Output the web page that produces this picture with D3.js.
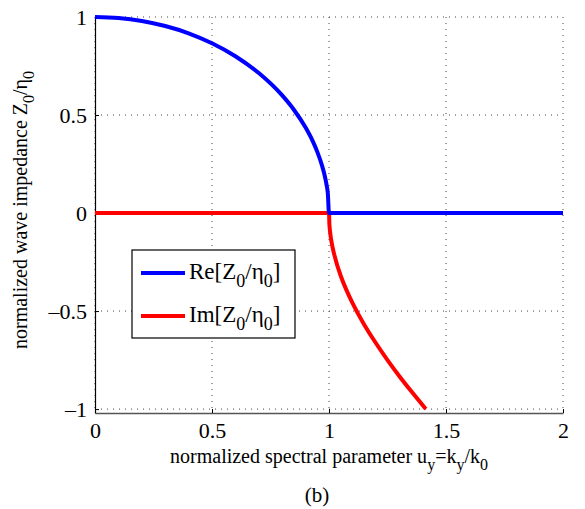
<!DOCTYPE html>
<html>
<head>
<meta charset="utf-8">
<script src="https://cdn.jsdelivr.net/npm/d3@7"></script>
<style>
  body { margin: 0; background: #fff; }
  svg text { font-family: "Liberation Serif", "DejaVu Serif", serif !important; fill: #000; }
</style>
</head>
<body>
<div id="chart"></div>
<script>
const width = 585,
      height = 509,
      margin = ({ top: 17, right: 22, bottom: 96, left: 95 });

// values
const re_u = [0, 0.1, 0.2, 0.3, 0.4, 0.5, 0.6, 0.7, 0.8, 0.85, 0.9, 0.93, 0.95, 0.97, 0.98, 0.99, 0.995, 1, 1.5, 2];
const re_v = [1, 0.995, 0.98, 0.954, 0.917, 0.866, 0.8, 0.714, 0.6, 0.527, 0.436, 0.368, 0.312, 0.243, 0.199, 0.141, 0.1, 0, 0, 0];
const im_u = [0, 0.5, 1, 1.002, 1.005, 1.01, 1.02, 1.05, 1.1, 1.15, 1.2, 1.25, 1.3, 1.35, 1.414];
const im_v = [0, 0, 0, -0.063, -0.1, -0.142, -0.2, -0.32, -0.458, -0.568, -0.663, -0.75, -0.831, -0.907, -1.0];
const xTicks = [0, 0.5, 1, 1.5, 2];
const yTicks = [-1, -0.5, 0, 0.5, 1];
const series = ["Re", "Im"];
const colors = ["#0000ff", "#ff0000"];

const svg = d3.select("#chart")
    .append("svg")
    .attr("width", width)
    .attr("height", height)
    .attr("font-family", "Liberation Serif, DejaVu Serif, serif");

let x = d3.scaleLinear()
    .domain([0, 2])
    .range([margin.left, width - margin.right]);

let y = d3.scaleLinear()
    .domain([-1.02, 1])
    .range([height - margin.bottom, margin.top]);

const fmt = d => d < 0 ? "\u2013" + Math.abs(d) : String(d);

// dotted grid
svg.append("g")
    .selectAll("line")
    .data(xTicks)
    .join("line")
    .attr("x1", d => x(d)).attr("x2", d => x(d))
    .attr("y1", y(1)).attr("y2", y(-1.02))
    .attr("stroke", "#444").attr("stroke-width", 1)
    .attr("stroke-dasharray", "1,5");

svg.append("g")
    .selectAll("line")
    .data(yTicks)
    .join("line")
    .attr("x1", x(0)).attr("x2", x(2))
    .attr("y1", d => y(d)).attr("y2", d => y(d))
    .attr("stroke", "#444").attr("stroke-width", 1)
    .attr("stroke-dasharray", "1,5");

// axes with inward ticks
svg.append("g")
    .attr("transform", `translate(0, ${y(-1.02)})`)
    .call(d3.axisBottom(x).tickValues(xTicks).tickFormat(fmt).tickSizeInner(-4).tickSizeOuter(0).tickPadding(9))
    .call(g => g.attr("font-family", null))
    .call(g => g.select(".domain").attr("stroke", "#555").attr("stroke-width", 1.5))
    .call(g => g.selectAll("text").attr("font-size", 22));

svg.append("g")
    .attr("transform", `translate(${x(0)}, 0)`)
    .call(d3.axisLeft(y).tickValues(yTicks).tickFormat(fmt).tickSizeInner(-4).tickSizeOuter(0).tickPadding(8))
    .call(g => g.attr("font-family", null))
    .call(g => g.select(".domain").attr("stroke", "#000").attr("stroke-width", 1.2))
    .call(g => g.selectAll("text").attr("font-size", 22));

// curves
const line = d3.line()
    .x(d => x(d[0]))
    .y(d => y(d[1]));

const reData = re_u.map((u, i) => [u, re_v[i]]);
const imData = im_u.map((u, i) => [u, im_v[i]]);

svg.append("path")
    .datum(imData)
    .attr("d", line.curve(d3.curveMonotoneY))
    .attr("fill", "none")
    .attr("stroke", colors[1])
    .attr("stroke-width", 4);

svg.append("path")
    .datum(reData)
    .attr("d", line.curve(d3.curveMonotoneX))
    .attr("fill", "none")
    .attr("stroke", colors[0])
    .attr("stroke-width", 4);

// legend
const legend = svg.append("g").attr("transform", "translate(132, 250)");
legend.append("rect")
    .attr("width", 163).attr("height", 88)
    .attr("fill", "#fff").attr("stroke", "#000").attr("stroke-width", 1.2);

series.forEach((s, i) => {
    const ly = 23 + i * 43;
    legend.append("line")
        .attr("x1", 9).attr("x2", 53)
        .attr("y1", ly).attr("y2", ly)
        .attr("stroke", colors[i]).attr("stroke-width", 4);
    const t = legend.append("text")
        .attr("x", 57).attr("y", ly + 6)
        .attr("font-size", 23);
    t.append("tspan").text(s + "[Z");
    t.append("tspan").attr("dy", 8).attr("font-size", 18).text("0");
    t.append("tspan").attr("dy", -8).text("/\u03b7");
    t.append("tspan").attr("dy", 8).attr("font-size", 18).text("0");
    t.append("tspan").attr("dy", -8).text("]");
});

// axis labels
const xl = svg.append("text")
    .attr("x", 329).attr("y", 463)
    .attr("text-anchor", "middle")
    .attr("font-size", 20);
xl.append("tspan").text("normalized spectral parameter u");
xl.append("tspan").attr("dy", 7).attr("font-size", 16).text("y");
xl.append("tspan").attr("dy", -7).text("=k");
xl.append("tspan").attr("dy", 7).attr("font-size", 16).text("y");
xl.append("tspan").attr("dy", -7).text("/k");
xl.append("tspan").attr("dy", 7).attr("font-size", 16).text("0");

const yl = svg.append("text")
    .attr("transform", "translate(27, 210) rotate(-90)")
    .attr("text-anchor", "middle")
    .attr("font-size", 20);
yl.append("tspan").text("normalized wave impedance Z");
yl.append("tspan").attr("dy", 7).attr("font-size", 16).text("0");
yl.append("tspan").attr("dy", -7).text("/\u03b7");
yl.append("tspan").attr("dy", 7).attr("font-size", 16).text("0");

svg.append("text")
    .attr("x", 317).attr("y", 502)
    .attr("text-anchor", "middle")
    .attr("font-size", 21)
    .text("(b)");
</script>
</body>
</html>
